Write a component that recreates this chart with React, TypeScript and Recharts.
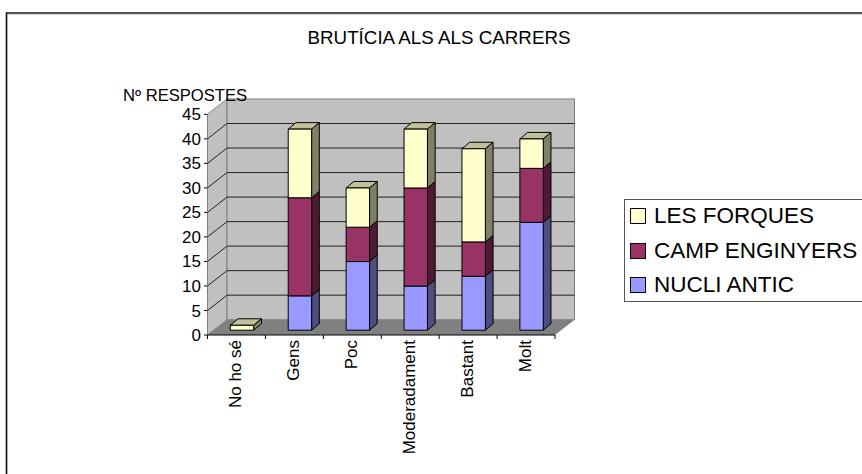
import { BarChart, Bar, XAxis, YAxis, CartesianGrid, Legend } from 'recharts';

const categories = ['No ho sé', 'Gens', 'Poc', 'Moderadament', 'Bastant', 'Molt'];
const nucliAntic = [0, 7, 14, 9, 11, 22];
const campEnginyers = [0, 20, 7, 20, 7, 11];
const lesForques = [1, 14, 8, 12, 19, 6];
const yTicks = [0, 5, 10, 15, 20, 25, 30, 35, 40, 45];
const legendOrder = ['LES FORQUES', 'CAMP ENGINYERS', 'NUCLI ANTIC'];

const data = categories.map((name, i) => ({
  name,
  nucli: nucliAntic[i],
  camp: campEnginyers[i],
  forques: lesForques[i],
}));

const FONT = '"Liberation Sans", Arial, sans-serif';

// plot box of the front plane, and the fake 3D depth of walls and bars
const LEFT = 207.5;
const RIGHT = 555;
const TOP = 114.3;
const BOTTOM = 335;
const WALL_DX = 19.5;
const WALL_DY = 15.3;
const BAR_DX = 5.8;
const BAR_DY = 4.8;
const SIDE_DX = 7.7;
const SIDE_DY = 6.5;
const BAND = (RIGHT - LEFT) / categories.length;

// sits under the chart, the chart's own svg is transparent
function Backdrop() {
  return (
    <svg width={862} height={474} style={{ position: 'absolute', left: 0, top: 0 }}>
      <path d="M6.5 474 V13 H862" fill="none" stroke="#111" strokeWidth={1.6} />
      <path d="M7.5 474 V14.2 H862" fill="none" stroke="#aaa" strokeWidth={0.8} />
      <polygon
        points={`${LEFT},${TOP} ${LEFT + WALL_DX},${TOP - WALL_DY} ${LEFT + WALL_DX},${BOTTOM - WALL_DY} ${LEFT},${BOTTOM}`}
        fill="#C0C0C0"
        stroke="#808080"
      />
      <rect
        x={LEFT + WALL_DX}
        y={TOP - WALL_DY}
        width={RIGHT - LEFT}
        height={BOTTOM - TOP}
        fill="#C0C0C0"
        stroke="#808080"
      />
      <polygon
        points={`${LEFT},${BOTTOM} ${RIGHT},${BOTTOM} ${RIGHT + WALL_DX},${BOTTOM - WALL_DY} ${LEFT + WALL_DX},${BOTTOM - WALL_DY}`}
        fill="#808080"
      />
      <text x={439} y={44} textAnchor="middle" fontFamily={FONT} fontSize={18.8} fill="#000">
        BRUTÍCIA ALS ALS CARRERS
      </text>
    </svg>
  );
}

function GridLine(props: any) {
  const { x1, x2, y1 } = props;
  if (y1 < TOP + 1 || y1 > BOTTOM - 1) return <g />;
  return (
    <path
      d={`M${x1} ${y1} L${x1 + WALL_DX} ${y1 - WALL_DY} L${x2 + WALL_DX} ${y1 - WALL_DY}`}
      fill="none"
      stroke="#222"
      strokeWidth={1}
    />
  );
}

function box3d(front: string, side: string, top: string) {
  return function Box(props: any) {
    const { x, y, width, height } = props;
    if (!height || height <= 0) return <g />;
    const l = x + BAR_DX;
    const r = l + width;
    const t = y - BAR_DY;
    const b = t + height;
    return (
      <g stroke="#000" strokeWidth={1} strokeLinejoin="round">
        <polygon
          points={`${l},${t} ${l + SIDE_DX},${t - SIDE_DY} ${r + SIDE_DX},${t - SIDE_DY} ${r},${t}`}
          fill={top}
        />
        <polygon
          points={`${r},${t} ${r + SIDE_DX},${t - SIDE_DY} ${r + SIDE_DX},${b - SIDE_DY} ${r},${b}`}
          fill={side}
        />
        <rect x={l} y={t} width={width} height={height} fill={front} />
      </g>
    );
  };
}

function CategoryTick(props: any) {
  const { x, payload, index } = props;
  const left = x - BAND / 2;
  return (
    <g>
      <line x1={left} y1={BOTTOM} x2={left} y2={BOTTOM + 4} stroke="#000" />
      {index === categories.length - 1 && (
        <line x1={x + BAND / 2} y1={BOTTOM} x2={x + BAND / 2} y2={BOTTOM + 4} stroke="#000" />
      )}
      <text
        transform={`translate(${x + 4.5},${BOTTOM + 5}) rotate(-90)`}
        textAnchor="end"
        fontFamily={FONT}
        fontSize={17}
        fill="#000"
      >
        {payload.value}
      </text>
    </g>
  );
}

function LegendBox({ payload }: any) {
  const rows = legendOrder.map((label) => (payload || []).find((p: any) => p.value === label)).filter(Boolean);
  return (
    <div
      style={{
        boxSizing: 'border-box',
        height: 103,
        borderTop: '1.5px solid #555',
        borderBottom: '1.5px solid #555',
        borderLeft: '1.5px solid #555',
        fontFamily: FONT,
        fontSize: 22.5,
        color: '#000',
      }}
    >
      {rows.map((row: any, i: number) => (
        <div key={row.value} style={{ display: 'flex', alignItems: 'center', height: 34.6, marginTop: i === 0 ? -1 : 0 }}>
          <span
            style={{
              boxSizing: 'border-box',
              width: 16,
              height: 16,
              marginLeft: 5,
              marginRight: 8,
              background: row.color,
              border: '1px solid #000',
            }}
          />
          <span style={{ whiteSpace: 'nowrap' }}>{row.value}</span>
        </div>
      ))}
    </div>
  );
}

export default function App() {
  return (
    <div style={{ position: 'absolute', left: 0, top: 0, width: 862, height: 474, background: '#fff', overflow: 'hidden' }}>
      <Backdrop />
      <BarChart
        width={862}
        height={474}
        data={data}
        margin={{ top: TOP, right: 862 - RIGHT, bottom: 9, left: LEFT - 40 }}
        barSize={23.4}
      >
        <CartesianGrid vertical={false} horizontal={GridLine} />
        <XAxis
          dataKey="name"
          height={130}
          interval={0}
          tick={CategoryTick}
          tickLine={false}
          axisLine={{ stroke: '#000' }}
        />
        <YAxis
          width={40}
          domain={[0, 45]}
          ticks={yTicks}
          interval={0}
          tickSize={3.5}
          tickMargin={3}
          tick={{ fontSize: 17, fontFamily: FONT, fill: '#000' }}
          tickLine={{ stroke: '#000' }}
          axisLine={{ stroke: '#808080' }}
        />
        <Legend
          layout="horizontal"
          align="center"
          verticalAlign="middle"
          content={<LegendBox />}
          wrapperStyle={{ left: 624, top: 199, width: 240, height: 103, bottom: 'auto' }}
        />
        <Bar dataKey="nucli" name="NUCLI ANTIC" stackId="a" fill="#9999FF" isAnimationActive={false}
          shape={box3d('#9999FF', '#4D4D80', '#7A7ACC')} />
        <Bar dataKey="camp" name="CAMP ENGINYERS" stackId="a" fill="#993366" isAnimationActive={false}
          shape={box3d('#993366', '#4D1A33', '#7A2952')} />
        <Bar dataKey="forques" name="LES FORQUES" stackId="a" fill="#FFFFCC" isAnimationActive={false}
          shape={box3d('#FFFFCC', '#808066', '#C0C09A')} />
        <text x={123} y={101} fontFamily={FONT} fontSize={16.6} fill="#000">Nº RESPOSTES</text>
      </BarChart>
    </div>
  );
}
